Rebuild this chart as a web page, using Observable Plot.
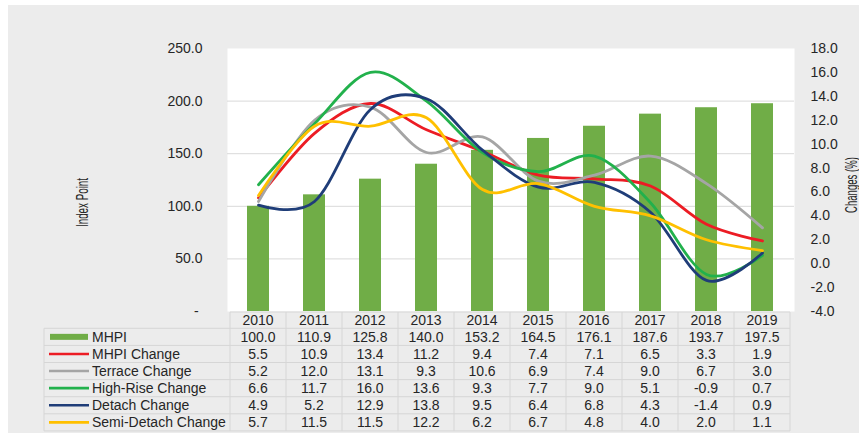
<!DOCTYPE html>
<html>
<head>
<meta charset="utf-8">
<script src="https://cdn.jsdelivr.net/npm/d3@7"></script>
<script src="https://cdn.jsdelivr.net/npm/@observablehq/plot@0.6"></script>
<style>
  html, body { margin: 0; padding: 0; background: #ffffff; width: 859px; height: 433px; overflow: hidden; }
  #panel { position: absolute; left: 8px; top: 5px; right: 0; bottom: 0; background: #ececec; }
  #chart { position: absolute; left: 0; top: 0; }
  #chart svg { display: block; }
</style>
</head>
<body>
<div id="panel"></div>
<div id="chart"></div>
<script>
// Malaysian house price index (MHPI) and yearly change by house type
const years = ["2010", "2011", "2012", "2013", "2014", "2015", "2016", "2017", "2018", "2019"];
const mhpi = [100.0, 110.9, 125.8, 140.0, 153.2, 164.5, 176.1, 187.6, 193.7, 197.5];
const mhpiChange = [5.5, 10.9, 13.4, 11.2, 9.4, 7.4, 7.1, 6.5, 3.3, 1.9];
const terraceChange = [5.2, 12.0, 13.1, 9.3, 10.6, 6.9, 7.4, 9.0, 6.7, 3.0];
const highRiseChange = [6.6, 11.7, 16.0, 13.6, 9.3, 7.7, 9.0, 5.1, -0.9, 0.7];
const detachChange = [4.9, 5.2, 12.9, 13.8, 9.5, 6.4, 6.8, 4.3, -1.4, 0.9];
const semiDetachChange = [5.7, 11.5, 11.5, 12.2, 6.2, 6.7, 4.8, 4.0, 2.0, 1.1];

const barName = "MHPI";
const lineNames = ["MHPI Change", "Terrace Change", "High-Rise Change", "Detach Change", "Semi-Detach Change"];
const lineValues = [mhpiChange, terraceChange, highRiseChange, detachChange, semiDetachChange];
const lineColors = ["#ec1c24", "#a5a5a5", "#22b14c", "#1f3d78", "#ffc000"];
const barColor = "#70ad47";

const indexTicks = [0, 50, 100, 150, 200, 250];
const changeTicks = [-4, -2, 0, 2, 4, 6, 8, 10, 12, 14, 16, 18];
const leftTitle = "Index Point";
const rightTitle = "Changes (%)";

// Secondary axis: percentage change mapped onto the index scale
const toIndex = d3.scaleLinear([-4, 18], [0, 250]);

const barRows = years.map((year, i) => ({year, value: mhpi[i]}));
const lineRows = lineNames.map((name, s) =>
  years.map((year, i) => ({year, name, value: lineValues[s][i]})));

const W = 859, H = 433;
const FONT = "'Liberation Sans', Arial, Helvetica, sans-serif";
const TEXT = "#262626";
const RULE = "#d6d6d6";

const plot = Plot.plot({
  width: W,
  height: H,
  marginLeft: 227,
  marginRight: 65,
  marginTop: 48,
  marginBottom: 122,
  style: {background: "transparent", fontFamily: FONT, fontSize: "14px", color: TEXT, overflow: "hidden"},
  x: {domain: years, paddingInner: 0.6, paddingOuter: 0.3, axis: null},
  y: {domain: [0, 250]},
  marks: [
    Plot.frame({fill: "#ffffff", stroke: null}),
    Plot.gridY([50, 100, 150, 200], {stroke: "#d9d9d9", strokeOpacity: 1, strokeWidth: 1}),
    Plot.barY(barRows, {x: "year", y: "value", fill: barColor}),
    ...lineRows.map((rows, s) => Plot.line(rows, {
      x: "year",
      y: d => toIndex(d.value),
      stroke: lineColors[s],
      strokeWidth: 2.8,
      curve: "cardinal",
      tension: 0
    })),
    Plot.axisY(indexTicks, {
      anchor: "left", tickSize: 0, tickPadding: 25, label: null,
      fontSize: 14, fill: TEXT,
      tickFormat: d => d === 0 ? "-\u00a0" : d.toFixed(1)
    }),
    Plot.axisY(changeTicks.map(c => toIndex(c)), {
      anchor: "right", tickSize: 0, tickPadding: 16, label: null,
      fontSize: 14, fill: TEXT,
      tickFormat: d => (Math.round(toIndex.invert(d) * 10) / 10 + 0).toFixed(1)
    })
  ]
});

document.getElementById("chart").appendChild(plot);

// Axis titles and the data table beneath the plot, placed from the plot's scales
const svg = d3.select(plot);
const xs = plot.scale("x");
const ys = plot.scale("y");
const step = xs.step;
const colCenter = year => xs.apply(year) + xs.bandwidth / 2;
const colsLeft = colCenter(years[0]) - step / 2;
const colsRight = colCenter(years[years.length - 1]) + step / 2;
const yBase = ys.apply(0);

function axisTitle(text, baselineX, centerY, len) {
  svg.append("text")
    .attr("transform", `translate(${baselineX},${centerY}) rotate(-90)`)
    .attr("text-anchor", "middle")
    .attr("font-family", "'Liberation Sans Narrow', 'Arial Narrow', " + FONT)
    .attr("font-size", 16)
    .attr("fill", TEXT)
    .attr("textLength", len)
    .attr("lengthAdjust", "spacingAndGlyphs")
    .text(text);
}
axisTitle(leftTitle, 87.5, 202.5, 49);
axisTitle(rightTitle, 856.5, 185, 56);

const table = svg.append("g")
  .attr("font-family", FONT).attr("font-size", 14).attr("fill", TEXT).attr("text-anchor", "middle");
const legendLeft = 44;
const headTop = yBase + 1;
const headBottom = yBase + 17.3;
const rowH = 17.1;
const rows = [{name: barName, values: mhpi, color: barColor, bar: true}]
  .concat(lineNames.map((name, s) => ({name, values: lineValues[s], color: lineColors[s], bar: false})));
const tableBottom = headBottom + rows.length * rowH;

// grid of the table
const grid = table.append("g").attr("stroke", RULE).attr("stroke-width", 1).attr("fill", "none");
grid.append("line").attr("x1", colsLeft).attr("x2", colsRight).attr("y1", headTop).attr("y2", headTop);
for (let r = 0; r <= rows.length; r++) {
  const y = headBottom + r * rowH;
  grid.append("line").attr("x1", legendLeft).attr("x2", colsRight).attr("y1", y).attr("y2", y);
}
grid.append("line").attr("x1", legendLeft).attr("x2", legendLeft).attr("y1", headBottom).attr("y2", tableBottom);
for (let i = 0; i <= years.length; i++) {
  const x = colsLeft + i * step;
  grid.append("line").attr("x1", x).attr("x2", x).attr("y1", headTop).attr("y2", tableBottom);
}

// header row: years
years.forEach(year => {
  table.append("text")
    .attr("x", colCenter(year)).attr("y", (headTop + headBottom) / 2)
    .attr("dy", "0.35em")
    .text(year);
});

// one row per series: swatch, name and values
rows.forEach((row, r) => {
  const cy = headBottom + (r + 0.5) * rowH;
  if (row.bar) {
    table.append("rect").attr("x", 50).attr("y", cy - 3).attr("width", 38).attr("height", 6).attr("fill", row.color);
  } else {
    table.append("line").attr("x1", 49).attr("x2", 89).attr("y1", cy).attr("y2", cy)
      .attr("stroke", row.color).attr("stroke-width", 2.6);
  }
  table.append("text").attr("x", 92).attr("y", cy).attr("dy", "0.35em")
    .attr("text-anchor", "start").text(row.name);
  row.values.forEach((v, i) => {
    table.append("text")
      .attr("x", colCenter(years[i])).attr("y", cy)
      .attr("dy", "0.35em")
      .text(v.toFixed(1));
  });
});
</script>
</body>
</html>
